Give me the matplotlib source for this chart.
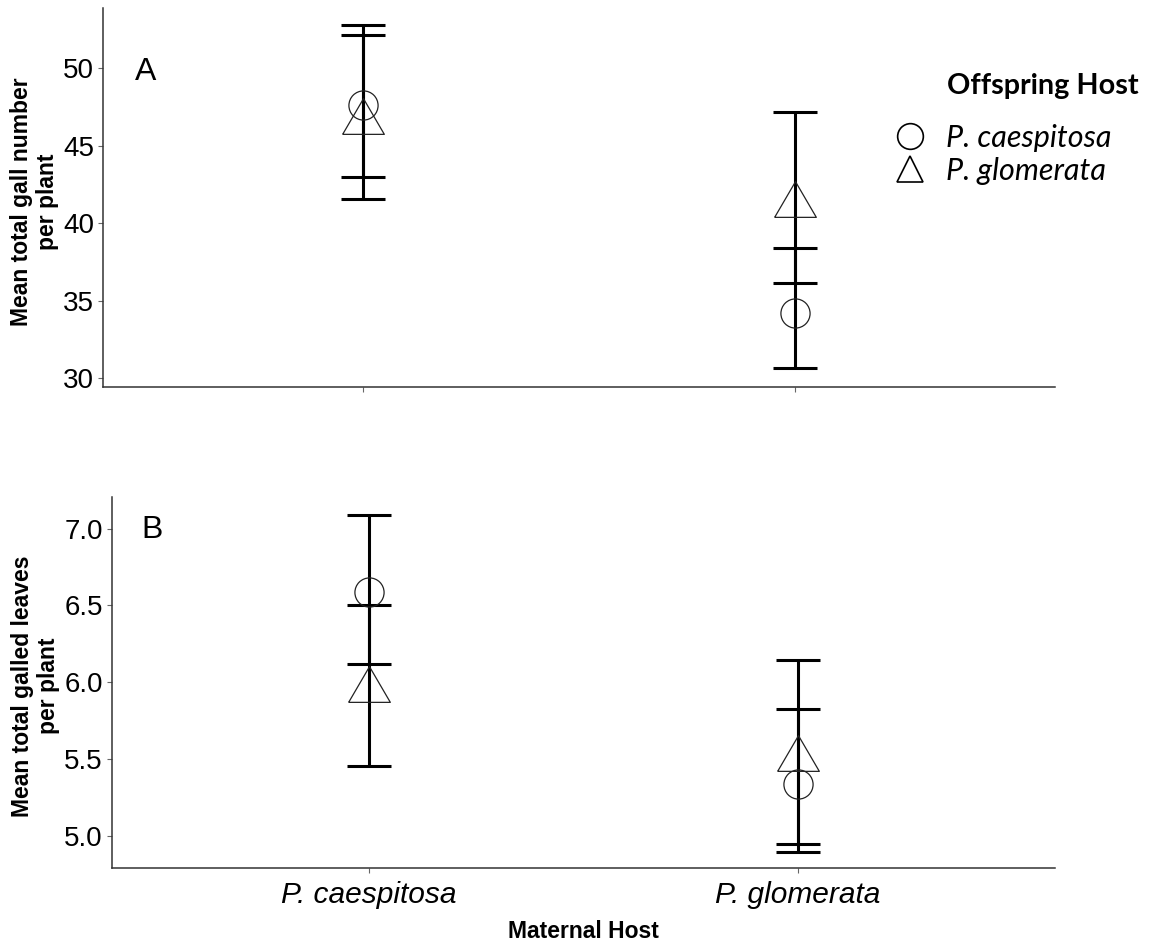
import matplotlib
matplotlib.use("Agg")
import matplotlib.pyplot as plt
from matplotlib.lines import Line2D
from matplotlib.font_manager import FontProperties
import numpy as np

# ---------------- data ----------------
maternal_hosts = ["P. caespitosa", "P. glomerata"]
offspring_hosts = ["P. caespitosa", "P. glomerata"]

# Panel A: mean total gall number per plant
gall_mean_caes = [47.63, 34.23]
gall_lo_caes = [43.00, 30.62]
gall_hi_caes = [52.80, 38.42]
gall_mean_glom = [46.90, 41.58]
gall_lo_glom = [41.59, 36.12]
gall_hi_glom = [52.18, 47.17]

# Panel B: mean total galled leaves per plant
leaf_mean_caes = [6.59, 5.34]
leaf_lo_caes = [6.116, 4.897]
leaf_hi_caes = [7.091, 5.825]
leaf_mean_glom = [5.99, 5.54]
leaf_lo_glom = [5.457, 4.945]
leaf_hi_glom = [6.501, 6.144]

gall_ticks = [30, 35, 40, 45, 50]
leaf_ticks = [5.0, 5.5, 6.0, 6.5, 7.0]

# ---------------- style ----------------
DPI = 100
fig = plt.figure(figsize=(11.52, 9.43), dpi=DPI)
plt.rcParams['font.family'] = ['Liberation Sans', 'DejaVu Sans']

tri_verts = [(-1, -0.857), (1, -0.857), (0, 0.857), (-1, -0.857)]

ax1 = fig.add_axes([103 / 1152, 1 - 387 / 943, (1055 - 103) / 1152, (387 - 8) / 943])
ax2 = fig.add_axes([112 / 1152, 1 - 868 / 943, (1055 - 112) / 1152, (868 - 497) / 943])

x = np.arange(1, len(maternal_hosts) + 1)


def draw_panel(ax, mc, lc, hc, mg, lg, hg):
    mc, lc, hc = map(np.array, (mc, lc, hc))
    mg, lg, hg = map(np.array, (mg, lg, hg))
    for m, lo, hi in ((mc, lc, hc), (mg, lg, hg)):
        ax.errorbar(x, m, yerr=[m - lo, hi - m], fmt='none', ecolor='black',
                    elinewidth=2.2, capsize=15.5, capthick=2.2, zorder=2)
    ax.plot(x, mc, linestyle='none', marker='o', ms=21, mfc='none',
            mec='#222222', mew=0.9, zorder=3)
    ax.plot(x, mg, linestyle='none', marker=tri_verts, ms=30, mfc='none',
            mec='#222222', mew=0.9, zorder=3)
    ax.set_xlim(0.4, 2.6)
    for s in ('top', 'right'):
        ax.spines[s].set_visible(False)
    for s in ('left', 'bottom'):
        ax.spines[s].set_color('#333333')
        ax.spines[s].set_linewidth(1.1)
    ax.tick_params(axis='both', color='#666666', length=3.5, width=0.8,
                   labelsize=20, labelcolor='black', pad=3)
    ax.set_xticks(x)


draw_panel(ax1, gall_mean_caes, gall_lo_caes, gall_hi_caes,
           gall_mean_glom, gall_lo_glom, gall_hi_glom)
ax1.set_ylim(29.42, 53.9)
ax1.set_yticks(gall_ticks)
ax1.set_yticklabels([str(t) for t in gall_ticks])
ax1.set_xticklabels([])
ax1.set_ylabel("Mean total gall number\nper plant", fontsize=16.5,
               fontweight='bold', linespacing=1.2)
ax1.yaxis.set_label_coords(-0.046, 0.489)
ax1.text(0.045, 0.831, "A", transform=ax1.transAxes, fontsize=23,
         ha='center', va='center')

draw_panel(ax2, leaf_mean_caes, leaf_lo_caes, leaf_hi_caes,
           leaf_mean_glom, leaf_lo_glom, leaf_hi_glom)
ax2.set_ylim(4.79, 7.206)
ax2.set_yticks(leaf_ticks)
ax2.set_yticklabels([f"{t:.1f}" for t in leaf_ticks])
ax2.set_xticklabels(maternal_hosts, fontstyle='italic', fontsize=21.5)
ax2.tick_params(axis='x', pad=6)
ax2.set_ylabel("Mean total galled leaves\nper plant", fontsize=16.5,
               fontweight='bold', linespacing=1.2)
ax2.yaxis.set_label_coords(-0.055, 0.49)
ax2.set_xlabel("Maternal Host", fontsize=16.5, fontweight='bold', labelpad=8)
ax2.text(0.043, 0.911, "B", transform=ax2.transAxes, fontsize=23,
         ha='center', va='center')

# ---------------- legend ----------------
handles = [
    Line2D([], [], linestyle='none', marker='o', ms=18.5, mfc='none', mec='black', mew=1.2),
    Line2D([], [], linestyle='none', marker='^', ms=19, mfc='none', mec='black', mew=1.2),
]
leg_font = FontProperties(family=['Lato', 'DejaVu Sans'], style='italic', size=22)
leg = fig.legend(handles, offspring_hosts, loc='upper left',
                 bbox_to_anchor=(892 / 1152, 1 - 124 / 943), frameon=False,
                 prop=leg_font, handlelength=1.2, handletextpad=0.58,
                 labelspacing=0.15, borderpad=0, borderaxespad=0)
fig.text(947 / 1152, 1 - 86 / 943, "Offspring Host", fontsize=20.7,
         fontweight='bold', family=['Lato', 'DejaVu Sans'], ha='left', va='center')

fig.savefig("out.png", dpi=DPI)
